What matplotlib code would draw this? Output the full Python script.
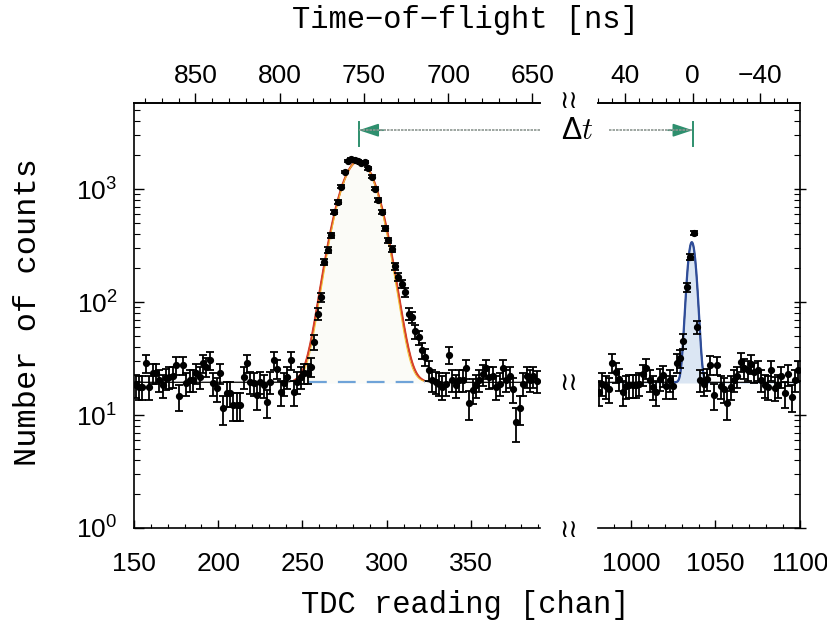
import numpy as np
import matplotlib.pyplot as plt
from matplotlib.ticker import MultipleLocator, LogLocator, NullFormatter

plt.rcParams['font.family'] = ['Liberation Sans', 'DejaVu Sans']
plt.rcParams['mathtext.default'] = 'regular'

# measured spectrum, 2-channel bins
left_chan = np.arange(151, 390, 2)
left_counts = [18.4, 17.8, 17.8, 28.8, 17.8, 23.5, 23.5, 20.4, 18.4, 21.2,
               21.8, 22.0, 27.7, 14.7, 27.7, 19.2, 20.4, 20.4, 23.5, 21.8,
               28.8, 26.7, 30.6, 19.2, 17.3, 23.5, 11.5, 15.7, 15.7, 12.3,
               12.3, 12.3, 21.8, 28.8, 19.8, 19.2, 15.0, 19.8, 18.4, 13.1,
               19.8, 30.6, 25.8, 16.1, 19.2, 21.8, 30.6, 16.1, 19.8, 21.8,
               23.5, 23.5, 26.7, 44.5, 79, 111, 227, 288, 392, 630,
               770, 1050, 1420, 1780, 1840, 1800, 1780, 1700, 1740, 1530,
               1290, 1010, 800, 630, 450, 354, 298, 208, 167, 146,
               123, 79, 74, 55, 49, 37.6, 32.8, 25.0, 20.4, 19.8,
               19.0, 17.8, 19.0, 34.0, 20.4, 18.4, 20.4, 20.4, 25.9, 12.7,
               16.6, 18.4, 20.4, 23.0, 25.9, 21.8, 22.2, 17.8, 19.0, 25.9,
               20.4, 22.2, 17.0, 8.7, 11.5, 19.0, 22.2, 20.4, 22.0, 20.0]
right_chan = np.arange(981, 1100, 2)
right_counts = [16, 19, 18, 17, 29, 24, 21, 16, 18, 18.5,
                18.5, 18.5, 19, 23, 26, 20.4, 17.8, 16, 21, 22.5,
                18, 20.4, 18, 29, 32, 45, 135, 250, 410, 60,
                20.4, 19, 21, 28, 15, 27.7, 18, 17, 12.7, 17.8,
                20.4, 22, 29.7, 26, 25, 28.6, 24, 25, 20.4, 18.4,
                17.8, 25, 17.4, 18.4, 22, 15.6, 23, 14.5, 20.4, 25]

# fit parameters
background = 19.5
peak1 = (283.5, 9.8, 1760)     # centre, sigma, height
peak2 = (1036.0, 2.3, 320)
chan_zero = 1036.5             # channel of tof = 0 ns
tof_left_ticks = [850, 800, 750, 700, 650]
tof_right_ticks = [40, 0, -40]

W, H = 827, 627
TICK_FS = 19


def gauss(x, p):
    c, s, h = p
    return background + h * np.exp(-0.5 * ((x - c) / s) ** 2)


def style_axes(ax):
    ax.set_yscale('log')
    ax.set_ylim(1, 5800)
    ax.yaxis.set_major_locator(LogLocator(base=10, numticks=10))
    ax.yaxis.set_minor_locator(LogLocator(base=10, subs=np.arange(2, 10), numticks=10))
    ax.yaxis.set_minor_formatter(NullFormatter())
    ax.xaxis.set_minor_locator(MultipleLocator(10))
    ax.tick_params(axis='x', which='both', direction='in', top=False, labelsize=TICK_FS, pad=17)
    ax.tick_params(axis='x', which='major', length=6, width=1)
    ax.tick_params(axis='x', which='minor', length=3, width=0.8)
    for sp in ax.spines.values():
        sp.set_linewidth(1.2)


def add_top_axis(ax, ticks, minor):
    sec = ax.secondary_xaxis('top', functions=(lambda c: chan_zero - c, lambda t: chan_zero - t))
    sec.set_xticks(ticks)
    sec.xaxis.set_minor_locator(MultipleLocator(minor))
    sec.tick_params(which='both', direction='out', labelsize=TICK_FS, pad=4)
    sec.tick_params(which='major', length=7, width=1)
    sec.tick_params(which='minor', length=3.5, width=0.8)
    sec.set_xticklabels([str(t).replace('-', '\u2212') for t in ticks])
    sec.spines['top'].set_linewidth(1.2)
    return sec


def draw_points(ax, x, y):
    y = np.asarray(y, dtype=float)
    ax.errorbar(x, y, yerr=np.sqrt(y), fmt='o', ms=4.2, color='k', ecolor='k',
                elinewidth=1.3, capsize=2.6, capthick=1.3, zorder=5)


fig = plt.figure(figsize=(W / 100, H / 100), dpi=100)
bottom, top = 1 - 528 / H, 1 - 103 / H
ax1 = fig.add_axes([134 / W, bottom, (540 - 134) / W, top - bottom])
ax2 = fig.add_axes([598 / W, bottom, (800 - 598) / W, top - bottom])

# left panel
x1 = np.linspace(150, 391, 600)
ax1.fill_between(x1, background, gauss(x1, peak1), color='#fbfbf7', zorder=1)
ax1.plot(x1, gauss(x1, peak1), color='k', lw=0.9, zorder=2)
core = (x1 > 245) & (x1 < 322)
ax1.plot(x1[core], gauss(x1[core], peak1), color='#d9412b', lw=1.6, zorder=3)
ax1.plot(x1[core], gauss(x1[core], (peak1[0], peak1[1] * 0.97, peak1[2])),
         color='#f2c230', lw=0.7, zorder=3)
ax1.plot([254, 323], [background, background], color='#6fa3d8', lw=1.6,
         dashes=(8, 5), zorder=3)
draw_points(ax1, left_chan, left_counts)
ax1.set_xlim(150, 391)
ax1.set_xticks([150, 200, 250, 300, 350])
style_axes(ax1)
ax1.spines['right'].set_visible(False)
ax1.tick_params(axis='y', which='both', direction='in', labelsize=TICK_FS, pad=12)
ax1.tick_params(axis='y', which='major', length=7, width=1)
ax1.tick_params(axis='y', which='minor', length=4, width=0.8)
add_top_axis(ax1, tof_left_ticks, 10)

# right panel
x2 = np.linspace(980.5, 1100, 800)
ax2.fill_between(x2, background, gauss(x2, peak2), color='#dbe6f3', zorder=1)
ax2.plot(x2, gauss(x2, peak2), color='k', lw=0.9, zorder=2)
core2 = (x2 > 1026) & (x2 < 1046)
ax2.plot(x2[core2], gauss(x2[core2], peak2), color='#2f4d9a', lw=1.6, zorder=3)
draw_points(ax2, right_chan, right_counts)
ax2.set_xlim(980.5, 1100)
ax2.set_xticks([1000, 1050, 1100])
style_axes(ax2)
ax2.spines['left'].set_visible(False)
ax2.yaxis.tick_right()
ax2.tick_params(axis='y', which='both', labelright=False, labelleft=False, left=False)
ax2.tick_params(axis='y', which='major', direction='inout', length=9, width=1)
ax2.tick_params(axis='y', which='minor', direction='in', length=4, width=0.8)
add_top_axis(ax2, tof_right_ticks, 8)

# delta-t arrow spanning the break
y_arr = 3330
green = '#2e8f6e'
ax1.plot([283.5, 391.5], [y_arr, y_arr], color='#8c9690', lw=1.2, ls=(0, (1.5, 0.6)),
         clip_on=False, zorder=4)
ax1.annotate('', xy=(283.5, y_arr), xytext=(298, y_arr),
             arrowprops=dict(arrowstyle='-|>,head_length=1.2,head_width=0.4',
                             color=green, lw=1.2, shrinkA=0, shrinkB=0))
ax1.plot([283.5, 283.5], [2400, 3920], color=green, lw=1.4)
ax2.plot([987, 1036.5], [y_arr, y_arr], color='#8c9690', lw=1.2, ls=(0, (1.5, 0.6)),
         clip_on=False, zorder=4)
ax2.annotate('', xy=(1036.5, y_arr), xytext=(1022, y_arr),
             arrowprops=dict(arrowstyle='-|>,head_length=1.2,head_width=0.4',
                             color=green, lw=1.2, shrinkA=0, shrinkB=0))
ax2.plot([1036.5, 1036.5], [2400, 3920], color=green, lw=1.4)
fig.text(577 / W, 1 - 131 / H, r'$\Delta\mathit{t}$', fontsize=22, ha='center',
         va='center', math_fontfamily='cm')

# axis break marks
for yp in (101, 383, 530):
    fig.text(569 / W, 1 - yp / H, '\u2240\u2240', fontsize=18, ha='center', va='center',
             family='DejaVu Sans')

lab_font = ['Liberation Mono', 'DejaVu Sans Mono']
fig.text(465 / W, 1 - 605 / H, 'TDC reading [chan]', fontsize=22, ha='center',
         va='center', family=lab_font)
fig.text(465 / W, 1 - 20 / H, 'Time\u2212of\u2212flight [ns]', fontsize=22, ha='center',
         va='center', family=lab_font)
fig.text(28 / W, 1 - 312 / H, 'Number of counts', fontsize=23, ha='center',
         va='center', rotation=90, family=lab_font)

fig.savefig('out.png', dpi=100)
